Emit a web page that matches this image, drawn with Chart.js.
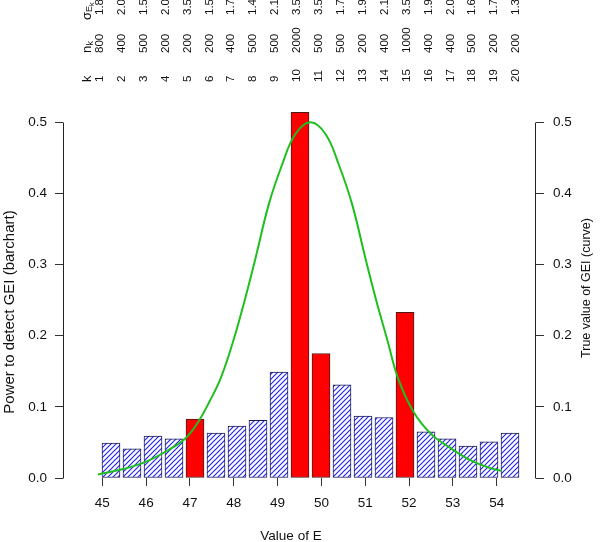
<!DOCTYPE html>
<html><head><meta charset="utf-8">
<script src="https://cdn.jsdelivr.net/npm/chart.js@4/dist/chart.umd.min.js"></script>
<style>html,body{margin:0;padding:0;background:#fff;overflow:hidden}#wrap{width:600px;height:542px;position:relative}</style>
</head><body><div id="wrap"><canvas id="c" width="600" height="542"></canvas></div>
<script>
// ---- data ----
const kValues = [1,2,3,4,5,6,7,8,9,10,11,12,13,14,15,16,17,18,19,20];
const nK = [800,400,500,200,200,200,400,500,500,2000,500,500,200,400,1000,400,400,500,200,200];
const sigmaE = ['1.8','2.0','1.5','2.0','3.5','1.5','1.7','1.4','2.1','3.5','3.5','1.7','1.9','2.1','3.5','1.9','2.0','1.6','1.7','1.3'];
const power = [0.049,0.041,0.059,0.055,0.083,0.063,0.073,0.081,0.149,0.514,0.175,0.131,0.087,0.085,0.233,0.065,0.055,0.045,0.051,0.063];
const significant = [false,false,false,false,true,false,false,false,false,true,true,false,false,false,true,false,false,false,false,false];
const curveE   = [44.9, 45.5, 46.0, 46.5, 46.9, 47.2, 47.45, 47.7, 48.0, 48.25, 48.5, 48.8, 49.1, 49.4, 49.75, 50.1, 50.4, 50.7, 51.0, 51.25, 51.5, 51.75, 52.1, 52.5, 52.95, 53.4, 53.8, 54.12];
const curveGEI = [0.005,0.013,0.023,0.039,0.056,0.080,0.108,0.140,0.195,0.250,0.310,0.385,0.440,0.483,0.500,0.483,0.440,0.385,0.310,0.250,0.195,0.140,0.093,0.062,0.042,0.025,0.015,0.010];
const eTicks = [45,46,47,48,49,50,51,52,53,54];
const yTicks = [0,0.1,0.2,0.3,0.4,0.5];

const FONT = '"Liberation Sans", Arial, Helvetica, sans-serif';
const canvas = document.getElementById('c');
const ctx0 = canvas.getContext('2d');

function makeHatch() {
  const s = 5;
  const c = document.createElement('canvas'); c.width = s; c.height = s;
  const g = c.getContext('2d');
  g.fillStyle = '#ffffff'; g.fillRect(0,0,s,s);
  g.strokeStyle = '#2626ee'; g.lineWidth = 1.2;
  g.beginPath();
  g.moveTo(-1, s+1); g.lineTo(s+1, -1);
  g.moveTo(-1, 1); g.lineTo(1, -1);
  g.moveTo(s-1, s+1); g.lineTo(s+1, s-1);
  g.stroke();
  return ctx0.createPattern(c, 'repeat');
}
const hatch = makeHatch();

const tickFont = {family: FONT, size: 13.5};

const annot = {
  id: 'annot',
  afterDraw(chart) {
    const ctx = chart.ctx;
    const xs = chart.scales.x, yl = chart.scales.y, yr = chart.scales.y2;
    const a = chart.chartArea;
    ctx.save();
    // axis lines (only 0 to 0.5 as in R)
    ctx.strokeStyle = '#222'; ctx.lineWidth = 1;
    ctx.beginPath();
    const lx = Math.round(a.left) + 0.5, rx = Math.round(a.right) - 0.5;
    ctx.moveTo(lx, Math.round(yl.getPixelForValue(0)) + 0.5);
    ctx.lineTo(lx, Math.round(yl.getPixelForValue(0.5)) + 0.5);
    ctx.moveTo(rx, Math.round(yr.getPixelForValue(0)) + 0.5);
    ctx.lineTo(rx, Math.round(yr.getPixelForValue(0.5)) + 0.5);
    ctx.stroke();

    ctx.fillStyle = '#111';
    // axis titles
    ctx.textAlign = 'center'; ctx.textBaseline = 'middle';
    ctx.font = '13.5px ' + FONT;
    ctx.fillText('Value of E', 291, 536);
    ctx.save(); ctx.translate(10, 312); ctx.rotate(-Math.PI/2);
    ctx.font = '15px ' + FONT;
    ctx.fillText('Power to detect GEI (barchart)', 0, 0); ctx.restore();
    ctx.save(); ctx.translate(587, 288); ctx.rotate(-Math.PI/2);
    ctx.font = '12.5px ' + FONT;
    ctx.fillText('True value of GEI (curve)', 0, 0); ctx.restore();

    // top rotated rows
    const rowK = 82, rowN = 53, rowS = 15;
    function vtext(parts, x, yb) {
      ctx.save(); ctx.translate(x, yb); ctx.rotate(-Math.PI/2);
      ctx.textAlign = 'left'; ctx.textBaseline = 'middle';
      let off = 0;
      for (const p of parts) {
        ctx.font = p.size + 'px ' + FONT;
        ctx.fillText(p.t, off, p.dy || 0);
        off += ctx.measureText(p.t).width;
      }
      ctx.restore();
    }
    const labX = xs.getPixelForValue(44.65);
    vtext([{t:'k', size:13}], labX, rowK);
    vtext([{t:'n', size:13},{t:'k', size:9.5, dy:3}], labX, rowN);
    vtext([{t:'σ', size:13},{t:'E', size:9, dy:3},{t:'k', size:7, dy:5}], labX, rowS + 5);
    for (let i = 0; i < kValues.length; i++) {
      const x = xs.getPixelForValue(45 + (kValues[i]-1)/2) - 2.5;
      vtext([{t:String(kValues[i]), size:11.5}], x, rowK);
      vtext([{t:String(nK[i]), size:11.5}], x, rowN);
      vtext([{t:sigmaE[i], size:11.5}], x, rowS);
    }
    ctx.restore();
  }
};

new Chart(canvas, {
  data: {
    datasets: [
      {
        type: 'line', label: 'True value of GEI', order: 0,
        xAxisID: 'x', yAxisID: 'y2',
        data: curveE.map((e, i) => ({x: e, y: curveGEI[i]})),
        borderColor: '#1fbf1f', borderWidth: 2, pointRadius: 0, fill: false,
        tension: 0.4
      },
      {
        type: 'bar', label: 'Power', order: 1,
        xAxisID: 'xb', yAxisID: 'y',
        data: power.map((p, i) => ({x: kValues[i], y: p})),
        backgroundColor: significant.map(s => s ? '#ff0000' : hatch),
        borderColor: significant.map(s => s ? '#4a1a1a' : '#1a1a5e'),
        borderWidth: 1, borderSkipped: false,
        grouped: false, barThickness: 18
      }
    ]
  },
  options: {
    responsive: false, animation: false, devicePixelRatio: 1,
    layout: {padding: {top: 101, left: 0, right: 0, bottom: 0}},
    plugins: {legend: {display: false}, tooltip: {enabled: false}},
    scales: {
      xb: {type: 'linear', display: false, offset: false, min: -1.2857, max: 21.238},
      x: {
        type: 'linear', position: 'bottom', offset: false, min: 44.103, max: 54.897,
        afterBuildTicks: s => { s.ticks = eTicks.map(v => ({value: v})); },
        afterFit: s => { s.height = 64; },
        ticks: {font: tickFont, color: '#111', padding: 9, maxRotation: 0, callback: v => String(v)},
        grid: {drawOnChartArea: false, tickLength: 8, color: '#333'},
        border: {display: false}
      },
      y: {
        type: 'linear', position: 'left', min: 0, max: 0.53,
        afterBuildTicks: s => { s.ticks = yTicks.map(v => ({value: v})); },
        afterFit: s => { s.width = 63; },
        ticks: {font: tickFont, color: '#111', padding: 8, callback: v => v.toFixed(1)},
        grid: {drawOnChartArea: false, tickLength: 8, color: '#333'},
        border: {display: false}
      },
      y2: {
        type: 'linear', position: 'right', min: 0, max: 0.53,
        afterBuildTicks: s => { s.ticks = yTicks.map(v => ({value: v})); },
        afterFit: s => { s.width = 64; },
        ticks: {font: tickFont, color: '#111', padding: 9, callback: v => v.toFixed(1)},
        grid: {drawOnChartArea: false, tickLength: 8, color: '#333'},
        border: {display: false}
      }
    }
  },
  plugins: [annot]
});
</script></body></html>
